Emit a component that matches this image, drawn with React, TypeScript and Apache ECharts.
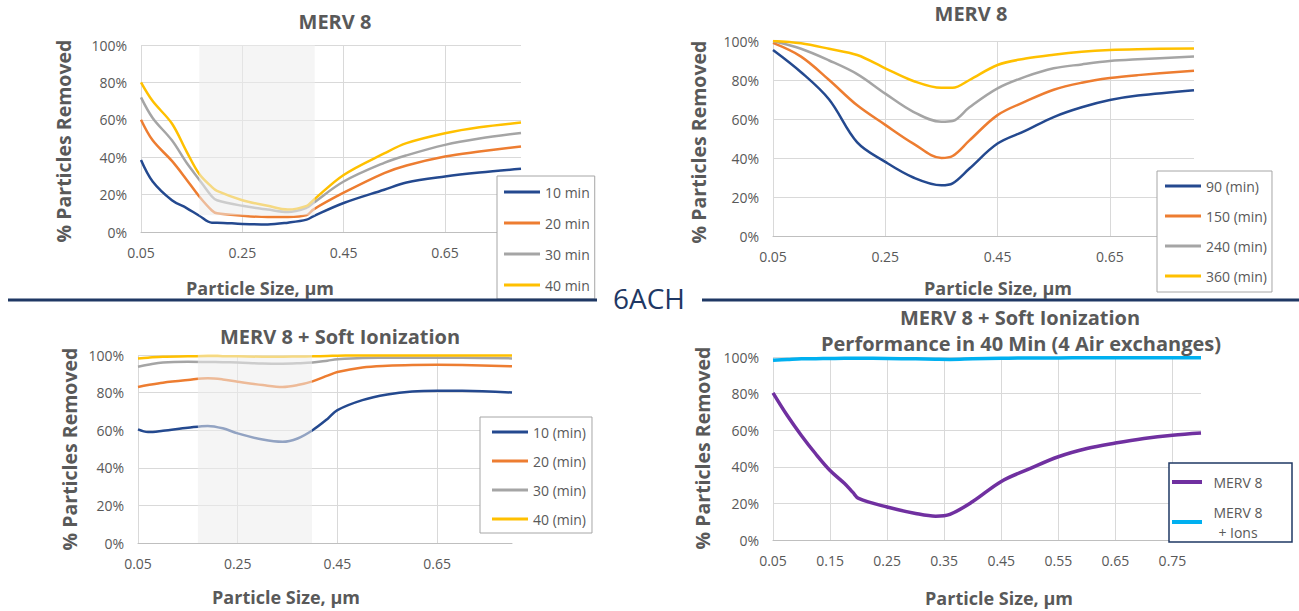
import React, { useEffect, useRef } from "react";
import * as echarts from "echarts";

// ---------- DATA ----------
// Top-left: MERV 8 (10-40 min)
const tlX = [0.05, 0.073, 0.111, 0.14, 0.165, 0.19, 0.2, 0.25, 0.3, 0.34, 0.377, 0.39, 0.45, 0.53, 0.574, 0.65, 0.718, 0.8];
const tl10 = [38.5, 27, 17, 12.8, 8.7, 5, 5, 4.3, 4, 5, 6.6, 8.4, 15.5, 22.6, 26.5, 29.7, 31.8, 33.8];
const tl20 = [60, 49, 38, 28, 19, 11.5, 10, 8.7, 8, 8, 9, 12, 21, 31.5, 35.6, 40.4, 43, 45.7];
const tl30 = [72, 61, 49, 37, 28, 19, 17, 14, 12, 10.7, 13, 15.5, 27, 37, 41, 46.6, 50, 53];
const tl40 = [80, 70, 58, 43, 31, 24, 22, 17, 14, 12, 14, 17, 30.5, 42, 47.5, 52.8, 56, 58.5];
const tlNames = ["10 min", "20 min", "30 min", "40 min"];

// Top-right: MERV 8 (90-360 min)
const trX = [0.05, 0.1, 0.15, 0.2, 0.25, 0.3, 0.35, 0.37, 0.4, 0.45, 0.5, 0.55, 0.6, 0.65, 0.7, 0.8];
const tr90 = [95.4, 84, 70, 48, 38, 30, 26, 27, 34.6, 47.4, 54, 61, 66, 69.7, 72, 74.8];
const tr150 = [99, 92, 80, 67, 57, 47.4, 40, 41, 49, 62, 69, 75, 78.6, 81, 82.5, 84.8];
const tr240 = [100, 96, 90, 83, 73, 63.7, 58.6, 59, 66, 75.7, 81.7, 86, 88, 89.7, 90.6, 92];
const tr360 = [100, 98.8, 96, 92.8, 86, 79.5, 76, 76, 80, 87.7, 91, 93, 94.5, 95.4, 95.8, 96.2];
const trNames = ["90 (min)", "150 (min)", "240 (min)", "360 (min)"];

// Bottom-left: MERV 8 + Soft Ionization
const blX = [0.05, 0.07, 0.1, 0.15, 0.19, 0.22, 0.25, 0.3, 0.34, 0.37, 0.4, 0.43, 0.45, 0.5, 0.55, 0.6, 0.65, 0.7, 0.8];
const bl10 = [60.4, 59, 59.7, 61.3, 62.3, 61, 58.3, 55, 53.8, 55.6, 60, 66, 70.7, 76, 79, 80.6, 81, 81, 80];
const bl20 = [83, 84, 85.3, 86.7, 87.6, 87, 85.8, 84, 83, 84, 86, 89, 91, 93.4, 94.3, 94.7, 94.8, 94.7, 94];
const bl30 = [93.8, 94.8, 96, 96.4, 96.3, 96.2, 96, 95.5, 95.4, 95.6, 96, 97, 97.7, 98.4, 98.5, 98.6, 98.6, 98.5, 98.2];
const bl40 = [98.2, 98.6, 99.1, 99.3, 99.5, 99.4, 99.3, 99.1, 99.1, 99.2, 99.3, 99.5, 99.6, 99.8, 99.8, 99.8, 99.8, 99.8, 99.8];
const blNames = ["10 (min)", "20 (min)", "30 (min)", "40 (min)"];

// Bottom-right: 40 min comparison
const brX = [0.05, 0.075, 0.1, 0.125, 0.15, 0.175, 0.19, 0.2, 0.25, 0.3, 0.335, 0.36, 0.4, 0.45, 0.5, 0.55, 0.6, 0.65, 0.7, 0.75, 0.8];
const brMerv = [80.4, 68, 57, 47, 38, 31, 26, 22.7, 18, 14.5, 13, 14, 21, 32, 39, 45.5, 50, 53, 55.5, 57.3, 58.5];
const brIons = [98.2, 98.6, 99, 99.1, 99.2, 99.3, 99.3, 99.3, 99.2, 99, 98.8, 98.7, 99, 99.3, 99.5, 99.5, 99.6, 99.6, 99.6, 99.6, 99.6];
const brNames = ["MERV 8", "MERV 8 + Ions"];

const xTicksWide = [0.05, 0.25, 0.45, 0.65];
const xTicksFine = [0.05, 0.15, 0.25, 0.35, 0.45, 0.55, 0.65, 0.75];
const shadeTL = [0.165, 0.393, 9, 100];
const shadeBL = [0.17, 0.399, 0, 100];

const COLORS = ["#24498F", "#ED7D31", "#A5A5A5", "#FFC000"];
const PURPLE = "#7030A0";
const CYAN = "#00B0F0";
const NAVY = "#1F3864";
const TXT = "#595959";
const FONT = "'Open Sans', 'Noto Sans', sans-serif";

const pairs = (xs: number[], ys: number[]) => xs.map((x, i) => [x, ys[i]]);

function xAxis(gridIndex: number, ticks: number[]) {
  return {
    type: "value",
    gridIndex,
    min: 0.05,
    max: 0.8,
    axisLine: { show: true, lineStyle: { color: "#BFBFBF", width: 1 } },
    axisTick: { show: false, customValues: ticks },
    axisLabel: {
      customValues: ticks,
      color: TXT,
      fontSize: 14,
      fontFamily: FONT,
      margin: 13,
      formatter: (v: number) => v.toFixed(2),
    },
    splitLine: { show: true, lineStyle: { color: "#D9D9D9", width: 1 } },
  };
}

function yAxis(gridIndex: number) {
  return {
    type: "value",
    gridIndex,
    min: 0,
    max: 100,
    interval: 20,
    axisLine: { show: false },
    axisTick: { show: false },
    axisLabel: { color: TXT, fontSize: 14, fontFamily: FONT, margin: 14, formatter: "{value}%" },
    splitLine: { show: true, lineStyle: { color: "#D9D9D9", width: 1 } },
  };
}

function line(name: string, idx: number, data: number[][], color: string, width = 2.5) {
  return {
    type: "line",
    name,
    xAxisIndex: idx,
    yAxisIndex: idx,
    data,
    smooth: 0.35,
    symbol: "none",
    lineStyle: { color, width },
    itemStyle: { color },
    z: 3,
  };
}

function legend(names: string[], left: number, top: number, padding: number[], gap: number) {
  return {
    data: names,
    orient: "vertical",
    left,
    top,
    padding,
    itemGap: gap,
    itemWidth: 36,
    itemHeight: 3,
    icon: "rect",
    backgroundColor: "#fff",
    borderColor: "#A6A6A6",
    borderWidth: 1,
    textStyle: { color: TXT, fontSize: 14, fontFamily: FONT, lineHeight: 16 },
    selectedMode: false,
  };
}

function txt(id: string, text: string, x: number, y: number, size: number, bold = true, rotate = 0, color = TXT) {
  return {
    type: "text",
    id,
    x,
    y,
    rotation: rotate,
    z: 20,
    style: {
      text,
      fill: color,
      font: `${bold ? "bold " : ""}${size}px ${FONT}`,
      align: "center",
      verticalAlign: "middle",
    },
  };
}

const baseGraphics = [
  { type: "line", id: "divL", shape: { x1: 8, y1: 300, x2: 597, y2: 300 }, style: { stroke: NAVY, lineWidth: 3 }, z: 20 },
  { type: "line", id: "divR", shape: { x1: 702, y1: 300, x2: 1299, y2: 300 }, style: { stroke: NAVY, lineWidth: 3 }, z: 20 },
  txt("ach", "6ACH", 649, 298, 28, false, 0, NAVY),
  txt("t1", "MERV 8", 335, 21, 20),
  txt("t2", "MERV 8", 971, 13, 20),
  txt("t3", "MERV 8 + Soft Ionization", 340, 336, 20),
  txt("t4a", "MERV 8 + Soft Ionization", 1020, 317, 20),
  txt("t4b", "Performance in 40 Min (4 Air exchanges)", 1021, 343, 20),
  txt("y1", "% Particles Removed", 63, 141, 19.5, true, Math.PI / 2),
  txt("y2", "% Particles Removed", 698, 142, 19.5, true, Math.PI / 2),
  txt("y3", "% Particles Removed", 69, 449, 19.5, true, Math.PI / 2),
  txt("y4", "% Particles Removed", 702, 448, 19.5, true, Math.PI / 2),
  txt("x1", "Particle Size, µm", 260, 288, 18),
  txt("x2", "Particle Size, µm", 998, 288, 18),
  txt("x3", "Particle Size, µm", 286, 597, 18),
  txt("x4", "Particle Size, µm", 999, 598, 18),
];

export default function App() {
  const ref = useRef<HTMLDivElement>(null);
  useEffect(() => {
    if (!ref.current) return;
    const chart = echarts.init(ref.current, undefined, { renderer: "svg" });
    const option: any = {
      animation: false,
      backgroundColor: "#fff",
      grid: [
        { left: 141, top: 45, width: 380, height: 187 },
        { left: 773, top: 41, width: 421, height: 195 },
        { left: 138, top: 355, width: 374, height: 188 },
        { left: 773, top: 357, width: 428, height: 183 },
      ],
      xAxis: [xAxis(0, xTicksWide), xAxis(1, xTicksWide), xAxis(2, xTicksWide), xAxis(3, xTicksFine)],
      yAxis: [yAxis(0), yAxis(1), yAxis(2), yAxis(3)],
      legend: [
        legend(tlNames, 497, 176, [8, 5, 6, 7], 15),
        legend(trNames, 1157, 171, [7, 5, 8, 8], 14),
        legend(blNames, 480, 417, [7, 6, 6, 12], 13),
        {
          data: brNames,
          orient: "vertical",
          left: 1169,
          top: 463,
          padding: [9, 23, 0, 3],
          itemGap: 10,
          itemWidth: 30,
          itemHeight: 4,
          icon: "rect",
          backgroundColor: "#fff",
          borderColor: NAVY,
          borderWidth: 1.5,
          selectedMode: false,
          formatter: (n: string) => (n === "MERV 8" ? "{a|MERV 8}" : "{a|MERV 8}\n{a|+ Ions}"),
          textStyle: {
            color: TXT,
            fontSize: 14,
            fontFamily: FONT,
            lineHeight: 16,
            rich: { a: { width: 62, align: "center", color: TXT, fontSize: 14, fontFamily: FONT, lineHeight: 20 } },
          },
        },
      ],
      series: [
        line(tlNames[0], 0, pairs(tlX, tl10), COLORS[0]),
        line(tlNames[1], 0, pairs(tlX, tl20), COLORS[1]),
        line(tlNames[2], 0, pairs(tlX, tl30), COLORS[2]),
        line(tlNames[3], 0, pairs(tlX, tl40), COLORS[3]),
        line(trNames[0], 1, pairs(trX, tr90), COLORS[0]),
        line(trNames[1], 1, pairs(trX, tr150), COLORS[1]),
        line(trNames[2], 1, pairs(trX, tr240), COLORS[2]),
        line(trNames[3], 1, pairs(trX, tr360), COLORS[3]),
        line(blNames[0], 2, pairs(blX, bl10), COLORS[0]),
        line(blNames[1], 2, pairs(blX, bl20), COLORS[1]),
        line(blNames[2], 2, pairs(blX, bl30), COLORS[2]),
        line(blNames[3], 2, pairs(blX, bl40), COLORS[3]),
        line(brNames[0], 3, pairs(brX, brMerv), PURPLE, 3.5),
        line(brNames[1], 3, pairs(brX, brIons), CYAN, 3.5),
      ],
      graphic: { elements: baseGraphics },
    };
    chart.setOption(option);

    const shade = (id: string, g: number, s: number[]) => {
      const p1 = chart.convertToPixel({ gridIndex: g } as any, [s[0], s[3]]) as number[];
      const p2 = chart.convertToPixel({ gridIndex: g } as any, [s[1], s[2]]) as number[];
      return {
        type: "rect",
        id,
        z: 10,
        shape: { x: p1[0], y: p1[1], width: p2[0] - p1[0], height: p2[1] - p1[1] },
        style: { fill: "rgba(236,236,236,0.55)" },
      };
    };
    chart.setOption({
      graphic: { elements: [...baseGraphics, shade("shTL", 0, shadeTL), shade("shBL", 2, shadeBL)] },
    });

    return () => chart.dispose();
  }, []);
  return <div ref={ref} style={{ position: "absolute", left: 0, top: 0, width: 1299, height: 611 }} />;
}
